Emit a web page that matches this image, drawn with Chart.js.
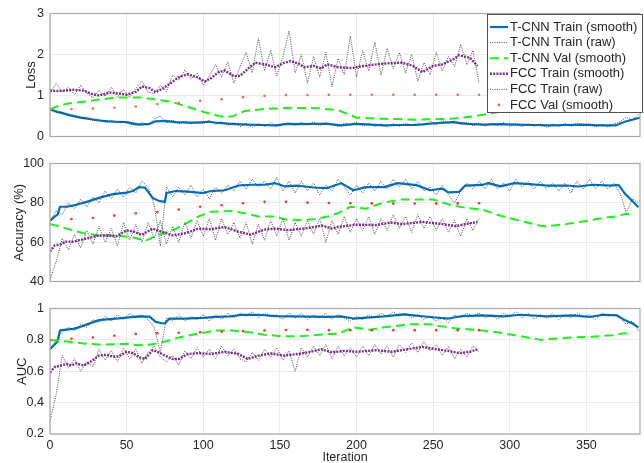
<!DOCTYPE html>
<html><head><meta charset="utf-8">
<script src="https://cdn.jsdelivr.net/npm/chart.js@4.4.0/dist/chart.umd.min.js"></script>
<style>
html,body{margin:0;padding:0;background:#fff;}
#wrap{position:relative;width:644px;height:463px;overflow:hidden;background:#fff;}
canvas{position:absolute;left:0;}
</style></head><body>
<div id="wrap">
<canvas id="c1" width="644" height="150" style="top:0px"></canvas>
<canvas id="c2" width="644" height="145" style="top:150px"></canvas>
<canvas id="c3" width="644" height="168" style="top:295px"></canvas>
</div>
<script>
// ---------- tick labels ----------
const xTicks = [0,50,100,150,200,250,300,350];
const lossTicks = [0,1,2,3];
const accTicks = [40,60,80,100];
const aucTicks = [0.2,0.4,0.6,0.8,1];
const RAW_STEP = 4;    // raw series sampled every 4 iterations
const VAL_STEP = 14;   // FCC validation every 14 iterations

// ---------- LOSS ----------
const lossTcnnSmoothX = [0,5,11,16,22,27,32,38,43,50, 58,65,69,75,82,90,97,103,110,118, 129,138,147,155,163,172,181,190,200,209, 218,228,239,250,263,272,283,294,304,315, 326,337,347,358,369,375,380,385];
const lossTcnnSmoothY = [0.66,0.60,0.54,0.49,0.45,0.42,0.39,0.37,0.36,0.35, 0.29,0.31,0.37,0.38,0.35,0.34,0.34,0.36,0.33,0.31, 0.29,0.28,0.27,0.31,0.30,0.31,0.31,0.27,0.31,0.29, 0.27,0.28,0.28,0.32,0.35,0.31,0.29,0.30,0.29,0.28, 0.27,0.28,0.29,0.27,0.27,0.36,0.41,0.46];
const lossTcnnRaw = [0.66,0.58,0.60,0.50,0.52,0.44,0.47,0.38,0.42,0.35,
  0.39,0.33,0.37,0.30,0.28,0.34,0.27,0.42,0.50,0.33,
  0.40,0.31,0.38,0.30,0.37,0.31,0.40,0.30,0.36,0.27,
  0.33,0.24,0.32,0.22,0.31,0.25,0.33,0.24,0.30,0.33,
  0.27,0.35,0.28,0.36,0.27,0.34,0.30,0.24,0.33,0.29,
  0.35,0.26,0.32,0.24,0.31,0.23,0.32,0.25,0.33,0.26,
  0.34,0.27,0.37,0.29,0.39,0.32,0.38,0.29,0.35,0.26,
  0.33,0.25,0.33,0.27,0.34,0.25,0.32,0.24,0.31,0.25,
  0.31,0.22,0.30,0.24,0.32,0.25,0.33,0.26,0.31,0.24,
  0.30,0.23,0.31,0.36,0.47,0.40,0.55];
const lossTcnnValX = [0,5,11,22,32,43,50,60,69,80, 90,101,112,119,127,140,157,175,188,200, 218,239,261,276,293,304,326,347,365,385];
const lossTcnnValY = [0.66,0.74,0.80,0.85,0.90,0.95,0.95,0.95,0.90,0.84, 0.72,0.59,0.49,0.49,0.62,0.67,0.70,0.69,0.64,0.46, 0.43,0.41,0.43,0.49,0.60,0.64,0.70,0.72,0.75,0.80];
const lossFccSmoothX = [0,5,10,15,22,27,32,39,45,50, 56,60,65,69,73,78,84,90,97,101, 105,110,114,120,124,130,134,140,147,153, 157,162,166,172,177,181,188,197,203,213, 222,230,237,243,250,256,263,267,274,279];
const lossFccSmoothY = [1.12,1.11,1.12,1.14,1.12,1.04,1.00,1.07,1.05,1.02, 1.09,1.22,1.18,1.08,1.16,1.28,1.45,1.52,1.43,1.34, 1.42,1.57,1.61,1.47,1.48,1.68,1.80,1.76,1.69,1.80, 1.84,1.78,1.69,1.72,1.66,1.76,1.69,1.67,1.71,1.76, 1.79,1.80,1.72,1.57,1.72,1.76,1.88,1.98,1.92,1.72];
const lossFccRaw = [1.05,1.30,1.08,1.20,1.02,1.25,1.06,0.95,1.12,0.98,
  1.20,0.97,1.15,0.95,1.18,1.35,1.08,1.05,1.25,1.10,
  1.50,1.38,1.62,1.40,1.55,1.25,1.48,1.75,1.45,1.82,
  1.30,1.70,2.05,1.55,2.40,1.60,2.10,1.48,1.95,2.57,
  1.55,2.00,1.30,1.95,1.45,2.05,1.22,1.90,1.50,2.45,
  1.45,2.10,1.60,2.30,1.50,2.15,1.65,2.05,1.55,2.00,
  1.35,1.80,1.50,2.05,1.60,1.95,1.70,2.25,1.75,2.10,
  1.30];
const lossFccVal = [0.66,0.67,0.68,0.70,0.73,0.79,0.82,0.87,0.91,0.96, 0.99,1.01,1.01,1.02,1.02,1.02,1.02,1.02,1.02,1.02, 1.02];

// ---------- ACCURACY ----------
const accTcnnSmoothX = [0,3,5,6.5,11,17,24,32,41,50, 54,58,62,67,71,75,76,82,88,97, 100,105,114,123,131,140,147,153,162,172, 181,190,198,206,218,227,239,248,256,260, 267,271,282,286,294,303,313,324,337,345, 354,367,371,375,379,384];
const accTcnnSmoothY = [70.8,73,74,78,78,79,80.5,82.5,84.4,85.2, 86,88,87.7,82.5,81,80.5,85,86,85.8,85.2, 85,86,86.4,88.8,89.2,89.2,90,88.4,88.7,87.8, 87.5,90,86.4,88,88,90,89,86.4,87.2,85.3, 85.6,88.8,89.1,90,88.4,90,89.5,88.8,88.8,88.3, 89.2,88.8,89.1,84.8,81.7,77.8];
const accTcnnRaw = [70,76,74,80,77,82,78,83,80,86,
  82,87,83,88,85,91,88,79,58,88,
  83,88,84,89,83,87,82,88,85,89,
  86,91,87,92,88,91,87,93,86,91,
  85,91,86,90,84,89,86,92,88,84,
  89,85,90,86,91,87,92,88,92,87,
  91,86,88,84,89,84,80,86,90,87,
  91,87,92,87,90,86,92,88,91,87,
  91,87,90,86,90,85,91,87,92,87,
  91,87,90,85,75,82,80];
const accTcnnValX = [0,11,22,32,43,54,62,71,80,88, 97,105,119,127,136,147,153,162,172,181, 188,196,206,218,229,239,250,261,271,282, 294,307,320,324,337,350,361,369,376,380];
const accTcnnValY = [69.2,66.9,64.5,63.4,63.4,62.5,60.6,63.8,66,69.2, 73.1,75.5,75.8,74.7,73.1,73.1,71.6,71.3,71.6,73.1, 74.7,78,77,80.2,81.7,81.7,81.7,79,77.5,76.6, 73.4,70.8,68.4,68.1,69.2,70.8,72.3,73,74.4,74];
const accFccSmoothX = [0,3,7.5,10,15,19,26,32,39,43, 50,54,60,67,73,80,88,97,105,114, 123,131,140,147,155,166,172,178,184,188, 200,213,222,230,243,256,265,271,279];
const accFccSmoothY = [55.2,58.3,59,60.3,60.2,61,62.2,63.4,63.4,62.9, 66,65.5,63.8,66.9,65.3,63.4,64.5,66.9,66.6,67.7, 65.3,63.8,66.4,66.9,66.1,66.9,67.7,68.4,66.9,67.7, 68.9,68.7,70,69.2,70.3,69.2,68.1,69.2,70.3];
const accFccRaw = [41,50,62,56,64,57,66,59,68,60,
  67,58,70,61,69,60,70,62,71,59,
  68,60,70,62,71,63,72,61,72,64,
  70,62,70,59,69,61,71,63,72,61,
  70,63,71,64,72,60,71,64,73,65,
  72,66,73,64,72,66,74,67,73,65,
  74,67,73,66,72,65,71,63,72,66,
  72];
const accFccVal = [71.2,71.8,72.3,73.5,74.7,75.3,76.6,78.0,78.8,79.8, 80.5,80.5,80.1,79.9,79.8,79.7,79.6,79.6,79.6,79.7, 79.8];

// ---------- AUC ----------
const aucTcnnSmoothX = [0,3,5,6.5,15,19,26,32,43,50, 58,65,69,73,75,78,88,100,108,118, 125,136,147,157,181,190,198,218,231,248, 260,269,282,296,307,324,341,352,361,370, 375,380,384];
const aucTcnnSmoothY = [0.74,0.77,0.79,0.86,0.87,0.88,0.905,0.926,0.936,0.942, 0.95,0.948,0.915,0.906,0.906,0.936,0.936,0.94,0.946,0.95, 0.96,0.96,0.952,0.95,0.946,0.95,0.936,0.95,0.963,0.946, 0.936,0.952,0.956,0.95,0.96,0.95,0.956,0.946,0.96,0.956, 0.926,0.905,0.88];
const aucTcnnRaw = [0.74,0.80,0.85,0.88,0.86,0.90,0.88,0.93,0.91,0.95,
  0.92,0.96,0.93,0.97,0.94,0.96,0.93,0.88,0.72,0.94,
  0.92,0.96,0.92,0.95,0.93,0.96,0.92,0.96,0.93,0.97,
  0.94,0.97,0.95,0.98,0.94,0.97,0.95,0.96,0.93,0.97,
  0.94,0.97,0.93,0.96,0.94,0.97,0.93,0.96,0.94,0.92,
  0.95,0.93,0.96,0.94,0.97,0.95,0.98,0.95,0.97,0.94,
  0.96,0.93,0.95,0.92,0.94,0.91,0.96,0.94,0.97,0.95,
  0.97,0.94,0.96,0.93,0.97,0.95,0.98,0.94,0.97,0.93,
  0.96,0.94,0.97,0.93,0.96,0.94,0.97,0.95,0.96,0.93,
  0.97,0.95,0.96,0.94,0.90,0.92,0.86];
const aucTcnnValX = [0,11,22,32,43,50,58,67,75,86, 97,108,118,129,140,151,162,172,181,188, 198,209,218,235,247,256,264,277,292,307, 320,328,341,354,367,375,379];
const aucTcnnValY = [0.80,0.79,0.777,0.77,0.772,0.775,0.765,0.772,0.79,0.82, 0.84,0.86,0.86,0.85,0.833,0.823,0.823,0.829,0.837,0.84, 0.88,0.864,0.88,0.90,0.90,0.886,0.874,0.864,0.848,0.823, 0.80,0.807,0.816,0.82,0.83,0.843,0.835];
const aucFccSmoothX = [0,3,7.5,11,14,17,22,26,32,37, 41,45,50,54,58,62,67,71,75,80, 84,90,97,105,114,123,129,136,144,153, 162,170,177,184,192,200,213,223,233,243, 252,260,267,274,279];
const aucFccSmoothY = [0.592,0.627,0.637,0.647,0.637,0.65,0.637,0.658,0.70,0.705, 0.693,0.695,0.724,0.716,0.69,0.678,0.734,0.72,0.70,0.678, 0.678,0.71,0.716,0.71,0.724,0.71,0.678,0.70,0.713,0.70, 0.71,0.724,0.74,0.72,0.73,0.724,0.734,0.724,0.74,0.755, 0.74,0.73,0.715,0.724,0.74];
const aucFccRaw = [0.28,0.45,0.70,0.62,0.68,0.60,0.66,0.63,0.74,0.67,
  0.73,0.66,0.75,0.68,0.74,0.65,0.72,0.76,0.69,0.66,
  0.70,0.64,0.73,0.68,0.75,0.69,0.74,0.68,0.76,0.70,
  0.74,0.68,0.66,0.72,0.67,0.74,0.69,0.75,0.67,0.73,
  0.60,0.75,0.69,0.76,0.70,0.77,0.68,0.76,0.70,0.75,
  0.69,0.76,0.70,0.77,0.71,0.76,0.69,0.77,0.72,0.78,
  0.72,0.79,0.73,0.77,0.70,0.76,0.68,0.74,0.69,0.76,
  0.72];
const aucFccVal = [0.800,0.807,0.815,0.826,0.838,0.843,0.845,0.848,0.852,0.856, 0.860,0.863,0.864,0.862,0.862,0.862,0.862,0.862,0.862,0.862, 0.862];

// ---------- styles ----------
const BLUE = '#0072BD', GREEN = '#1EF01E', PURPLE = '#7E2F8E', RAW = 'rgba(45,45,45,0.85)';
const TXT = '#262626', GRID = '#ebebeb', BOX = '#a9a9a9';
const FONT = '"Liberation Sans", Arial, Helvetica, sans-serif';
Chart.defaults.font.family = FONT;
Chart.defaults.color = TXT;

const xy = (xs, ys) => ys.map((v, i) => ({x: xs[i], y: v}));
const stepped = (step, ys) => ys.map((v, i) => ({x: i * step, y: v}));

function datasets(p) {
  const base = {pointRadius: 0, tension: 0, fill: false, borderJoinStyle: 'round'};
  return [
    {...base, label: 'T-CNN Train (smooth)', data: xy(p.tsX, p.tsY), borderColor: BLUE, borderWidth: 2.2, order: 0},
    {...base, label: 'T-CNN Train (raw)', data: stepped(RAW_STEP, p.tRaw), borderColor: RAW, borderWidth: 1, borderDash: [1, 1.3], order: -1},
    {...base, label: 'T-CNN Val (smooth)', data: xy(p.tvX, p.tvY), borderColor: GREEN, borderWidth: 2, borderDash: [9, 5], order: -2},
    {...base, label: 'FCC Train (smooth)', data: xy(p.fsX, p.fsY), borderColor: PURPLE, borderWidth: 2.4, borderDash: [2, 1.2], order: -3},
    {...base, label: 'FCC Train (raw)', data: stepped(RAW_STEP, p.fRaw), borderColor: RAW, borderWidth: 1, borderDash: [1, 1.3], order: -4},
    {label: 'FCC Val (smooth)', data: stepped(VAL_STEP, p.fVal), showLine: false, pointRadius: 1.3, pointBorderWidth: 0,
      pointBackgroundColor: p.valColor, borderColor: p.valColor, order: -5}
  ];
}

const boxPlugin = {
  id: 'box',
  afterDraw(chart) {
    const {ctx, chartArea: a} = chart;
    ctx.save();
    ctx.strokeStyle = BOX; ctx.lineWidth = 1.2;
    ctx.strokeRect(a.left, a.top, a.right - a.left, a.bottom - a.top);
    ctx.restore();
  }
};

const legendPlugin = {
  id: 'mlegend',
  afterDraw(chart) {
    const ctx = chart.ctx;
    const L = 487, T = 14, R = 643, B = 113, row0 = 27, rowH = 15.6;
    ctx.save();
    ctx.fillStyle = '#fff'; ctx.fillRect(L, T, R - L, B - T);
    ctx.strokeStyle = '#262626'; ctx.lineWidth = 0.8;
    ctx.strokeRect(L + 0.5, T + 0.5, R - L - 1, B - T - 1);
    chart.data.datasets.forEach((ds, i) => {
      const y = row0 + i * rowH;
      if (ds.showLine === false) {
        ctx.fillStyle = ds.pointBackgroundColor;
        ctx.beginPath(); ctx.arc(499, y, 1.4, 0, Math.PI * 2); ctx.fill();
      } else {
        ctx.setLineDash(ds.borderDash || []);
        ctx.strokeStyle = ds.borderColor; ctx.lineWidth = ds.borderWidth;
        ctx.beginPath(); ctx.moveTo(490, y); ctx.lineTo(508, y); ctx.stroke();
        ctx.setLineDash([]);
      }
      ctx.fillStyle = TXT; ctx.font = '13px ' + FONT; ctx.textBaseline = 'middle'; ctx.textAlign = 'left';
      ctx.fillText(ds.label, 510, y);
    });
    ctx.restore();
  }
};

function makeChart(id, p) {
  return new Chart(document.getElementById(id), {
    type: 'line',
    data: {datasets: datasets(p)},
    plugins: p.legend ? [boxPlugin, legendPlugin] : [boxPlugin],
    options: {
      responsive: false, animation: false, events: [],
      layout: {padding: {top: p.padTop, bottom: p.padBottom, left: 0, right: 1}},
      plugins: {legend: {display: false}, tooltip: {enabled: false}},
      scales: {
        x: {
          type: 'linear', min: 0, max: 385,
          afterBuildTicks: s => { s.ticks = xTicks.map(v => ({value: v})); },
          ticks: {display: p.showX, padding: 4, maxRotation: 0, autoSkip: false, font: {size: 12.5}, color: TXT},
          grid: {color: GRID, lineWidth: 1, drawTicks: false},
          border: {display: false},
          title: {display: p.showX, text: 'Iteration', font: {size: 12.5, lineHeight: 1}, padding: {top: 0, bottom: -1}, color: TXT},
          afterFit: s => { s.height = p.showX ? 29 : 0; }
        },
        y: {
          type: 'linear', min: p.yTicks[0], max: p.yTicks[p.yTicks.length - 1],
          afterBuildTicks: s => { s.ticks = p.yTicks.map(v => ({value: v})); },
          ticks: {padding: 6, font: {size: 12.5}, color: TXT, callback: v => String(v)},
          grid: {color: GRID, lineWidth: 1, drawTicks: false},
          border: {display: false},
          title: {display: true, text: p.yTitle, font: {size: 13, lineHeight: 1.2}, padding: {top: p.titlePad, bottom: 0}, color: TXT},
          afterFit: s => { s.width = 50; }
        }
      }
    }
  });
}

makeChart('c1', {tsX: lossTcnnSmoothX, tsY: lossTcnnSmoothY, tRaw: lossTcnnRaw, tvX: lossTcnnValX, tvY: lossTcnnValY,
  fsX: lossFccSmoothX, fsY: lossFccSmoothY, fRaw: lossFccRaw, fVal: lossFccVal, valColor: '#F0703C',
  yTicks: lossTicks, yTitle: 'Loss', titlePad: 24, padTop: 13, padBottom: 7, showX: false, legend: true});
makeChart('c2', {tsX: accTcnnSmoothX, tsY: accTcnnSmoothY, tRaw: accTcnnRaw, tvX: accTcnnValX, tvY: accTcnnValY,
  fsX: accFccSmoothX, fsY: accFccSmoothY, fRaw: accFccRaw, fVal: accFccVal, valColor: '#FF2E2E',
  yTicks: accTicks, yTitle: 'Accuracy (%)', titlePad: 12, padTop: 9, padBottom: 8, showX: false, legend: false});
makeChart('c3', {tsX: aucTcnnSmoothX, tsY: aucTcnnSmoothY, tRaw: aucTcnnRaw, tvX: aucTcnnValX, tvY: aucTcnnValY,
  fsX: aucFccSmoothX, fsY: aucFccSmoothY, fRaw: aucFccRaw, fVal: aucFccVal, valColor: '#FF2E2E',
  yTicks: aucTicks, yTitle: 'AUC', titlePad: 15, padTop: 10, padBottom: 0, showX: true, legend: false});
</script>
</body></html>
